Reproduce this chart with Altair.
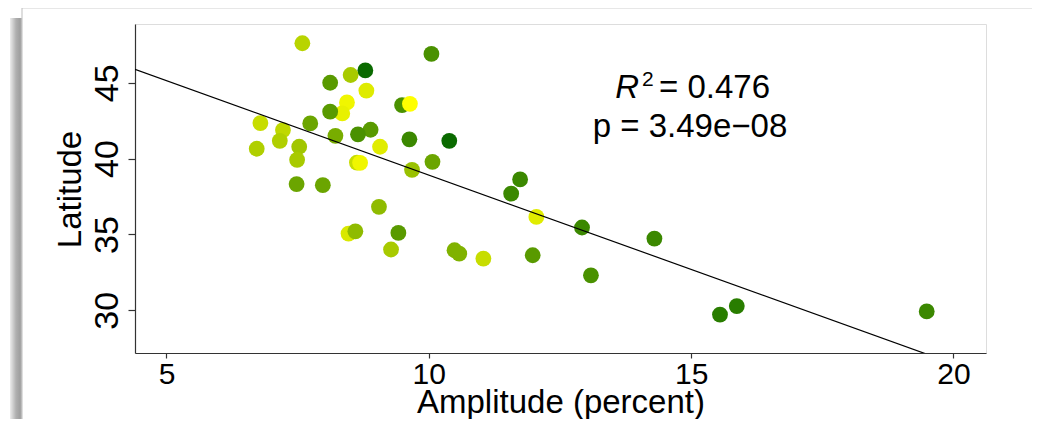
import altair as alt
import pandas as pd

# ---- data ----
amplitude = [7.59, 10.05, 8.79, 8.51, 8.12, 8.81, 8.44, 9.49, 9.64, 8.35,
             8.12, 6.79, 7.74, 7.22, 8.89, 8.65, 8.22, 7.16, 9.63, 10.39,
             6.72, 7.53, 9.07, 7.49, 8.63, 8.69, 9.68, 10.07, 7.48, 7.98,
             9.05, 8.47, 8.60, 9.42, 9.28, 10.49, 10.58, 11.04, 11.74, 11.57,
             12.05, 12.92, 14.30, 11.98, 13.09, 15.55, 15.87, 19.49]
latitude = [47.60, 46.90, 45.81, 45.51, 45.00, 44.48, 43.70, 43.53, 43.61, 42.98,
            43.09, 42.34, 42.32, 41.88, 41.90, 41.60, 41.50, 41.17, 41.27, 41.17,
            40.65, 40.78, 40.78, 39.92, 39.74, 39.72, 39.26, 39.79, 38.32, 38.25,
            36.82, 35.06, 35.21, 35.10, 34.01, 33.96, 33.74, 33.41, 38.63, 37.69,
            36.16, 35.46, 34.73, 33.63, 32.31, 29.72, 30.28, 29.93]
shade = [0.28, 0.71, 0.96, 0.34, 0.65, 0.13, 0.06, 0.71, 0.00, 0.09,
         0.65, 0.22, 0.58, 0.25, 0.65, 0.71, 0.53, 0.31, 0.77, 0.96,
         0.31, 0.37, 0.12, 0.34, 0.22, 0.06, 0.40, 0.58, 0.58, 0.58,
         0.44, 0.15, 0.44, 0.65, 0.34, 0.50, 0.50, 0.22, 0.77, 0.77,
         0.12, 0.77, 0.77, 0.65, 0.71, 0.84, 0.84, 0.77]

x_ticks = [5, 10, 15, 20]
y_ticks = [30, 35, 40, 45]
x_domain = [4.40, 20.62]
y_domain = [27.19, 48.87]
fit_intercept = 51.35
fit_slope = -1.2435
r2_value = "= 0.476"
p_value = "p = 3.49e\u221208"

FONT = "Liberation Sans"

pts = pd.DataFrame({"amp": amplitude, "lat": latitude, "shade": shade})
fit = pd.DataFrame({"amp": x_domain})
one = pd.DataFrame({"k": [0]})

xscale = alt.Scale(domain=x_domain, nice=False, zero=False)
yscale = alt.Scale(domain=y_domain, nice=False, zero=False)

xaxis = alt.Axis(values=x_ticks, title="Amplitude (percent)", grid=False,
                 domainColor="#333333", domainWidth=1.2, tickColor="#333333",
                 tickWidth=1.2, tickSize=5, labelFont=FONT, labelFontSize=30,
                 labelColor="black", labelPadding=1, labelFlush=False,
                 titleFont=FONT, titleFontSize=33, titleFontWeight="normal",
                 titleColor="black", titleY=59, titleBaseline="alphabetic")
yaxis = alt.Axis(values=y_ticks, title="Latitude", grid=False,
                 domainColor="#333333", domainWidth=1.2, tickColor="#333333",
                 tickWidth=1.2, tickSize=7, labelFont=FONT, labelFontSize=34,
                 labelColor="black", labelPadding=11, labelAngle=270,
                 labelAlign="center", labelBaseline="alphabetic", labelFlush=False,
                 titleFont=FONT, titleFontSize=33, titleFontWeight="normal",
                 titleColor="black", titleAngle=270, titleX=-55, titleY=165,
                 titleAlign="center", titleBaseline="alphabetic")

# decorative window frame / shadow at left
shadow = alt.Chart(one).mark_rect(
    color=alt.Gradient(gradient="linear",
                       stops=[alt.GradientStop(color="#ececec", offset=0),
                              alt.GradientStop(color="#b0b0b0", offset=0.5),
                              alt.GradientStop(color="#9e9e9e", offset=0.85),
                              alt.GradientStop(color="#c8c8c8", offset=1)],
                       x1=0, x2=1, y1=0, y2=0)
).encode(x=alt.value(-125), x2=alt.value(-113), y=alt.value(-6), y2=alt.value(410))
top_edge = alt.Chart(one).mark_rule(color="#cfcfcf", strokeWidth=1).encode(
    x=alt.value(-113), x2=alt.value(905), y=alt.value(-16))
left_edge = alt.Chart(one).mark_rule(color="#bdbdbd", strokeWidth=1).encode(
    x=alt.value(-113), y=alt.value(-16), y2=alt.value(410))

points = alt.Chart(pts).mark_circle(size=250, opacity=1).encode(
    x=alt.X("amp:Q", scale=xscale, axis=xaxis),
    y=alt.Y("lat:Q", scale=yscale, axis=yaxis),
    color=alt.Color("shade:Q", legend=None,
                    scale=alt.Scale(domain=[0, 1], range=["#ffff00", "#006400"],
                                    interpolate="rgb")),
)

line = alt.Chart(fit).transform_calculate(
    lat=f"{fit_intercept} + ({fit_slope}) * datum.amp"
).mark_line(color="black", strokeWidth=1.2, clip=True).encode(
    x=alt.X("amp:Q", scale=xscale),
    y=alt.Y("lat:Q", scale=yscale),
)

t_r = alt.Chart(one).mark_text(text="R", font=FONT, fontSize=33, fontStyle="italic",
                               align="right", baseline="alphabetic", color="black"
                               ).encode(x=alt.value(504), y=alt.value(74.3))
t_2 = alt.Chart(one).mark_text(text="2", font=FONT, fontSize=21,
                               align="left", baseline="alphabetic", color="black"
                               ).encode(x=alt.value(507), y=alt.value(62))
t_eq = alt.Chart(one).mark_text(text=r2_value, font=FONT, fontSize=33,
                                align="left", baseline="alphabetic", color="black"
                                ).encode(x=alt.value(524), y=alt.value(74.3))
t_p = alt.Chart(one).mark_text(text=p_value, font=FONT, fontSize=33,
                               align="center", baseline="alphabetic", color="black"
                               ).encode(x=alt.value(555), y=alt.value(112.7))

chart = alt.layer(shadow, top_edge, left_edge, points, line, t_r, t_2, t_eq, t_p).properties(
    width=851, height=329,
    autosize=alt.AutoSizeParams(type="none"),
    padding={"left": 127, "top": 16, "right": 46, "bottom": 66},
    background="white",
).configure_view(stroke=None).configure(font=FONT)

chart.save("out.html", embed_options={"renderer": "svg", "actions": False})
